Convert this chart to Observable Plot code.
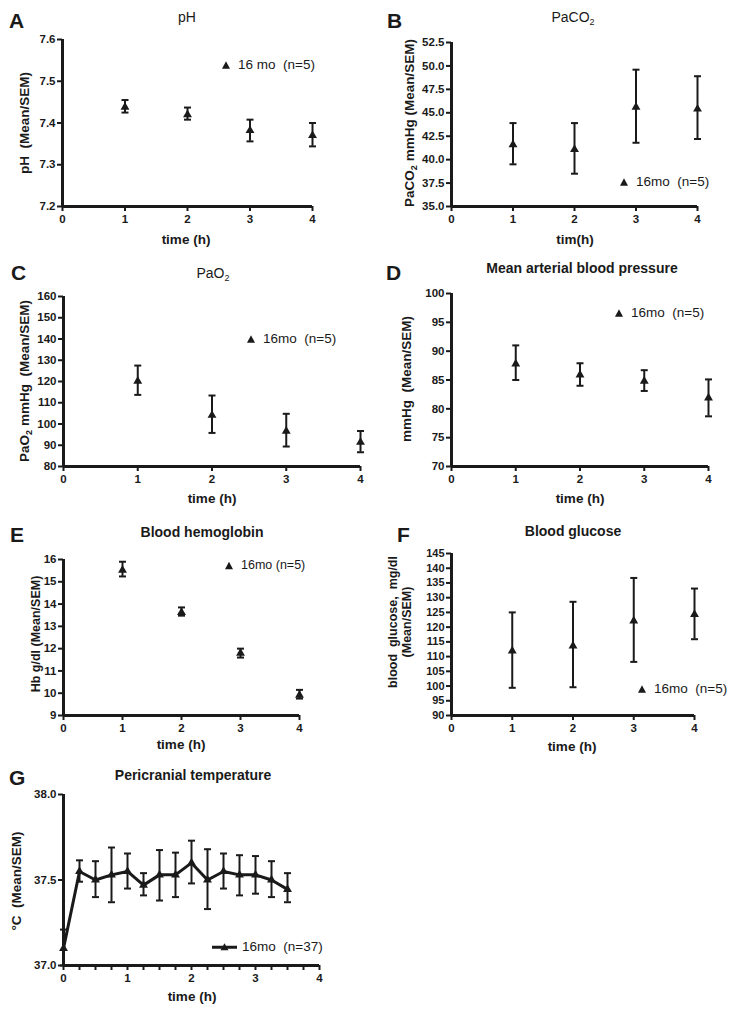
<!DOCTYPE html>
<html><head><meta charset="utf-8">
<script src="https://cdn.jsdelivr.net/npm/d3@7"></script>
<script src="https://cdn.jsdelivr.net/npm/@observablehq/plot@0.6"></script>
<style>
body{margin:0;background:#fff;}
#fig{position:relative;width:735px;height:1014px;font-family:"Liberation Sans",Arial,sans-serif;color:#1a1a1a;overflow:hidden}
.abs{position:absolute;white-space:nowrap;line-height:1}
.letter{font-weight:bold;font-size:21px;}
.title{font-size:14px;transform:translate(-50%,-50%);}
.b{font-weight:bold}
.xl{font-weight:bold;font-size:13.5px;transform:translate(-50%,-50%);}
.yl{font-weight:bold;font-size:13.5px;transform:translate(-50%,-50%) rotate(-90deg);text-align:center;line-height:1.1}
.leg{font-size:13.5px;transform:translateY(-50%);}
sub{font-size:9px;vertical-align:-3px;line-height:0}
svg.panel{position:absolute;overflow:visible}
</style>
</head><body><div id="fig"></div>
<script>
// ---- data ----
const hours = [1, 2, 3, 4];

const phMean = [7.438, 7.420, 7.382, 7.370];
const phLow  = [7.425, 7.408, 7.356, 7.344];
const phHigh = [7.455, 7.437, 7.408, 7.400];
const phTicks = [7.2, 7.3, 7.4, 7.5, 7.6];

const co2Mean = [41.6, 41.1, 45.6, 45.4];
const co2Low  = [39.5, 38.5, 41.8, 42.2];
const co2High = [43.9, 43.9, 49.6, 48.9];
const co2Ticks = [35.0, 37.5, 40.0, 42.5, 45.0, 47.5, 50.0, 52.5];

const o2Mean = [120.2, 104.1, 96.6, 91.4];
const o2Low  = [113.7, 95.8, 89.4, 86.7];
const o2High = [127.5, 113.4, 104.8, 96.7];
const o2Ticks = [80, 90, 100, 110, 120, 130, 140, 150, 160];

const mapMean = [87.8, 85.9, 84.8, 81.9];
const mapLow  = [85.0, 84.0, 83.1, 78.7];
const mapHigh = [91.0, 87.9, 86.7, 85.1];
const mapTicks = [70, 75, 80, 85, 90, 95, 100];

const hbMean = [15.52, 13.63, 11.80, 9.91];
const hbLow  = [15.24, 13.48, 11.60, 9.76];
const hbHigh = [15.90, 13.85, 12.00, 10.15];
const hbTicks = [9, 10, 11, 12, 13, 14, 15, 16];

const gluMean = [111.9, 113.6, 122.1, 124.3];
const gluLow  = [99.4, 99.6, 108.2, 115.9];
const gluHigh = [125.0, 128.6, 136.7, 133.1];
const gluTicks = [90, 95, 100, 105, 110, 115, 120, 125, 130, 135, 140, 145];

const tempTime = [0, 0.25, 0.5, 0.75, 1, 1.25, 1.5, 1.75, 2, 2.25, 2.5, 2.75, 3, 3.25, 3.5];
const tempMean = [37.10, 37.55, 37.50, 37.53, 37.55, 37.47, 37.53, 37.53, 37.60, 37.50, 37.55, 37.53, 37.53, 37.50, 37.445];
const tempLow  = [37.00, 37.49, 37.40, 37.37, 37.45, 37.41, 37.38, 37.40, 37.48, 37.33, 37.45, 37.41, 37.42, 37.40, 37.37];
const tempHigh = [37.21, 37.615, 37.61, 37.69, 37.655, 37.54, 37.675, 37.66, 37.73, 37.68, 37.655, 37.645, 37.64, 37.61, 37.54];
const tempTicks = [37.0, 37.5, 38.0];
const tempXTicks = [0, 0.25, 0.5, 0.75, 1, 1.25, 1.5, 1.75, 2, 2.25, 2.5, 2.75, 3, 3.25, 3.5, 3.75, 4];
const xTicks = [0, 1, 2, 3, 4];

// ---- helpers ----
const INK = "#1a1a1a";
const FONT = '"Liberation Sans", Arial, sans-serif';
const cap = { draw(ctx, size) { const w = Math.sqrt(size / Math.PI); ctx.moveTo(-w, 0); ctx.lineTo(w, 0); } };
const rows = (t, m, lo, hi) => t.map((d, i) => ({t: d, mean: m[i], lo: lo[i], hi: hi[i]}));
const fig = document.getElementById("fig");

function panel(c) {
  const mL = 45, mR = 12, mT = 12, mB = 26;
  const data = rows(c.t, c.mean, c.lo, c.hi);
  const chart = Plot.plot({
    width: c.xRight - c.xLeft + mL + mR,
    height: c.yBottom - c.yTop + mT + mB,
    marginLeft: mL, marginRight: mR, marginTop: mT, marginBottom: mB,
    x: {domain: [0, 4]},
    y: {domain: c.yDomain},
    style: {fontFamily: FONT, color: INK, background: "transparent", overflow: "visible"},
    marks: [
      Plot.axisY({ticks: c.yTicks, tickFormat: c.yFmt, tickSize: 5, tickPadding: 2, label: null,
                  strokeWidth: 2, fontSize: c.tickFont || 11.5, fontWeight: "bold"}),
      Plot.axisX({ticks: c.xTicks || xTicks, tickFormat: c.xFmt || (d => d), tickSize: 5, tickPadding: 3, label: null,
                  strokeWidth: 2, fontSize: 11.5, fontWeight: "bold"}),
      Plot.ruleX([0], {y1: c.yDomain[0], y2: c.yDomain[1], strokeWidth: 3, stroke: INK}),
      Plot.ruleY([c.yDomain[0]], {x1: 0, x2: 4, strokeWidth: 3, stroke: INK}),
      c.line ? Plot.line(data, {x: "t", y: "mean", strokeWidth: 3, stroke: INK}) : null,
      Plot.ruleX(data, {x: "t", y1: "lo", y2: "hi", strokeWidth: 2, stroke: INK}),
      Plot.dot(data, {x: "t", y: "lo", symbol: cap, r: 3.5, stroke: INK, fill: "none", strokeWidth: 2}),
      Plot.dot(data, {x: "t", y: "hi", symbol: cap, r: 3.5, stroke: INK, fill: "none", strokeWidth: 2}),
      Plot.dot(data, {x: "t", y: "mean", symbol: "triangle", r: 3.3, fill: INK, stroke: "none"})
    ]
  });
  chart.classList.add("panel");
  chart.style.left = (c.xLeft - mL) + "px";
  chart.style.top = (c.yTop - mT) + "px";
  fig.appendChild(chart);
}

function txt(cls, x, y, html, extra) {
  const d = document.createElement("div");
  d.className = "abs " + cls;
  d.style.left = x + "px"; d.style.top = y + "px";
  d.innerHTML = html;
  if (extra) Object.assign(d.style, extra);
  fig.appendChild(d);
}
function legend(x, y, label, line, fs) {
  const s = line
    ? `<svg width="28" height="10" style="vertical-align:middle;margin-right:3px"><line x1="1" y1="5" x2="26" y2="5" stroke="${INK}" stroke-width="3"/><path d="M13.5,1 L17.5,8 L9.5,8Z" fill="${INK}"/></svg>`
    : `<svg width="10" height="10" style="vertical-align:middle;margin-right:7px"><path d="M5,1 L9,8.5 L1,8.5Z" fill="${INK}"/></svg>`;
  txt("leg", x, y, s + label, fs ? {fontSize: fs + "px"} : null);
}

// ---- panels ----
const f1 = d => d.toFixed(1);
panel({t: hours, mean: phMean, lo: phLow, hi: phHigh, xLeft: 62, xRight: 312, yTop: 39, yBottom: 206,
       yDomain: [7.2, 7.6], yTicks: phTicks, yFmt: f1});
panel({t: hours, mean: co2Mean, lo: co2Low, hi: co2High, xLeft: 451, xRight: 697, yTop: 42, yBottom: 206,
       yDomain: [35, 52.5], yTicks: co2Ticks, yFmt: f1});
panel({t: hours, mean: o2Mean, lo: o2Low, hi: o2High, xLeft: 63, xRight: 360, yTop: 296, yBottom: 466,
       yDomain: [80, 160], yTicks: o2Ticks, yFmt: d => d});
panel({t: hours, mean: mapMean, lo: mapLow, hi: mapHigh, xLeft: 451, xRight: 708, yTop: 293, yBottom: 466,
       yDomain: [70, 100], yTicks: mapTicks, yFmt: d => d});
panel({t: hours, mean: hbMean, lo: hbLow, hi: hbHigh, xLeft: 63, xRight: 299, yTop: 559, yBottom: 715,
       yDomain: [9, 16], yTicks: hbTicks, yFmt: d => d});
panel({t: hours, mean: gluMean, lo: gluLow, hi: gluHigh, xLeft: 451, xRight: 694, yTop: 553, yBottom: 715,
       yDomain: [90, 145], yTicks: gluTicks, yFmt: d => d, tickFont: 11});
panel({t: tempTime, mean: tempMean, lo: tempLow, hi: tempHigh, xLeft: 63, xRight: 319, yTop: 794, yBottom: 965,
       yDomain: [37, 38], yTicks: tempTicks, yFmt: f1, line: true,
       xTicks: tempXTicks, xFmt: d => Number.isInteger(d) ? d : ""});

// ---- panel letters ----
txt("letter", 9, 10, "A");
txt("letter", 387, 10, "B");
txt("letter", 11, 262, "C");
txt("letter", 386, 262, "D");
txt("letter", 10, 524, "E");
txt("letter", 397, 524, "F");
txt("letter", 9, 767, "G");

// ---- titles ----
txt("title", 187, 17, "pH");
txt("title", 573, 17, "PaCO<sub>2</sub>");
txt("title", 213, 273, "PaO<sub>2</sub>");
txt("title b", 582, 268, "Mean arterial blood pressure");
txt("title b", 202, 532, "Blood hemoglobin");
txt("title b", 573, 531, "Blood glucose");
txt("title b", 193, 775, "Pericranial temperature");

// ---- x axis titles ----
txt("xl", 186, 240, "time (h)");
txt("xl", 575, 240, "tim(h)");
txt("xl", 212, 499, "time (h)");
txt("xl", 580, 499, "time (h)");
txt("xl", 181, 745, "time (h)");
txt("xl", 572, 747, "time (h)");
txt("xl", 192, 997, "time (h)");

// ---- y axis titles ----
txt("yl", 25, 123, "pH&nbsp; (Mean/SEM)");
txt("yl", 410, 123, "PaCO<sub>2</sub> mmHg (Mean/SEM)");
txt("yl", 25, 381, "PaO<sub>2</sub> mmHg&nbsp; (Mean/SEM)");
txt("yl", 407, 379, "mmHg&nbsp; (Mean/SEM)");
txt("yl", 37, 634, "Hb g/dl (Mean/SEM)", {fontSize: "12.5px"});
txt("yl", 401, 622, "blood&nbsp; glucose,&nbsp; mg/dl<br>(Mean/SEM)", {fontSize: "12.5px"});
txt("yl", 17, 881, "°C&nbsp; (Mean/SEM)");

// ---- legends ----
legend(221, 65, "16 mo&nbsp; (n=5)");
legend(619, 182, "16mo&nbsp; (n=5)");
legend(246, 339, "16mo&nbsp; (n=5)");
legend(614, 313, "16mo&nbsp; (n=5)");
legend(224, 565, "16mo (n=5)", false, 12.5);
legend(637, 689, "16mo&nbsp; (n=5)");
legend(211, 947, "16mo&nbsp; (n=37)", true);
</script>
</body></html>
